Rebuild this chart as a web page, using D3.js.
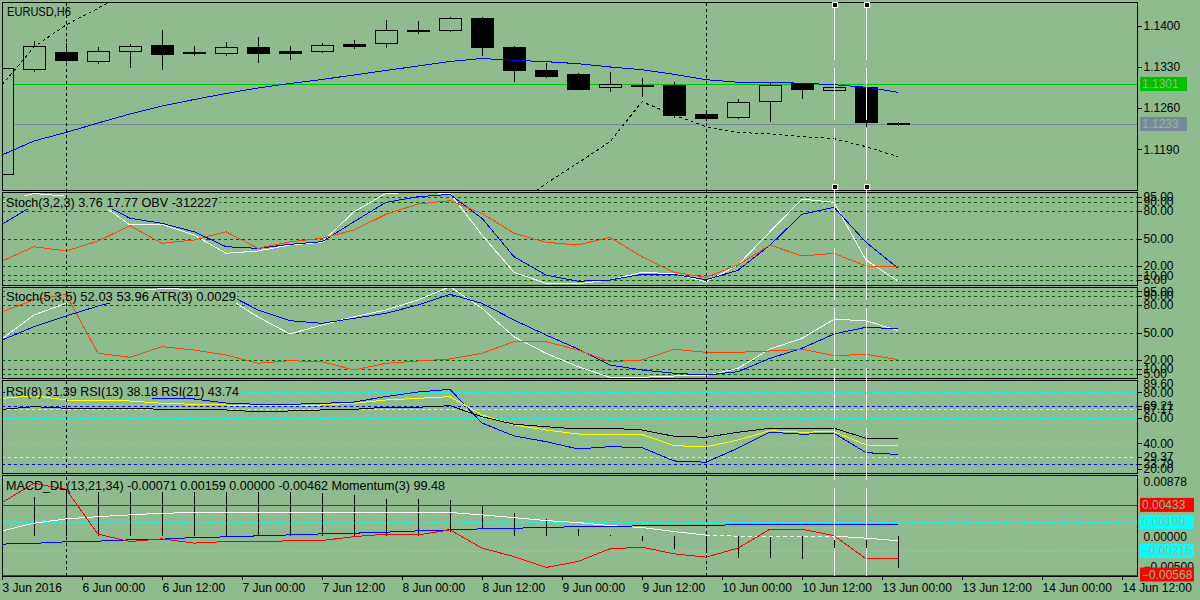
<!DOCTYPE html>
<html><head><meta charset="utf-8">
<script src="https://cdn.jsdelivr.net/npm/d3@7"></script>
<style>
body{margin:0;background:#8fbc8f}
svg{display:block}
</style>
</head><body>
<svg id="c" width="1200" height="600"></svg>
<script>
// ---------------- DATA ----------------
const symbolTitle = "EURUSD,H6";
const timeLabels = ["3 Jun 2016","6 Jun 00:00","6 Jun 12:00","7 Jun 00:00","7 Jun 12:00","8 Jun 00:00","8 Jun 12:00","9 Jun 00:00","9 Jun 12:00","10 Jun 00:00","10 Jun 12:00","13 Jun 00:00","13 Jun 12:00","14 Jun 00:00","14 Jun 12:00"];

const openPrices  = [1.11481,1.13260,1.13554,1.13406,1.13559,1.13672,1.13548,1.13525,1.13638,1.13571,1.13576,1.13695,1.13695,1.13922,1.13915,1.14126,1.13638,1.13248,1.13180,1.12954,1.12988,1.12993,1.12500,1.12444,1.12716,1.13022,1.12903,1.12954,1.12345];
const highPrices  = [1.13277,1.13740,1.13706,1.13638,1.13689,1.13927,1.13655,1.13723,1.13813,1.13655,1.13712,1.13757,1.14097,1.14080,1.14153,1.14140,1.13655,1.13367,1.13197,1.13214,1.13107,1.13044,1.12568,1.12755,1.13032,1.13022,1.12993,1.12976,1.12364];
const lowPrices   = [1.11481,1.13219,1.13384,1.13345,1.13287,1.13253,1.13491,1.13491,1.13372,1.13423,1.13542,1.13599,1.13627,1.13864,1.13893,1.13491,1.13049,1.13117,1.12913,1.12879,1.12794,1.12437,1.12381,1.12420,1.12369,1.12755,1.12823,1.12284,1.12301];
const closePrices = [1.13277,1.13655,1.13423,1.13571,1.13650,1.13525,1.13551,1.13633,1.13542,1.13542,1.13672,1.13661,1.13922,1.13924,1.14126,1.13627,1.13253,1.13151,1.12930,1.13005,1.12964,1.12483,1.12437,1.12699,1.12988,1.12913,1.12954,1.12352,1.12325];

const maPrices = [1.11804,1.12041,1.12186,1.12347,1.12500,1.12636,1.12746,1.12848,1.12942,1.13018,1.13086,1.13163,1.13239,1.13316,1.13392,1.13443,1.13412,1.13389,1.13355,1.13299,1.13253,1.13175,1.13083,1.13039,1.13039,1.13022,1.12998,1.12954,1.12869];
const bandUpper = [1.12993,1.13638,1.14012,1.14296,1.14590,null,null,null,null,null,null,null,null,null,null,null,null,null,null,null,null,null,null,null,null,null,null,null,null];
const bandLower = [null,null,null,null,null,null,null,null,null,null,null,null,null,null,null,1.10400,1.10903,1.11319,1.11668,1.12030,1.12709,1.12483,1.12284,1.12189,1.12160,1.12115,1.12081,1.11945,1.11775];

const priceTicks = [1.1400,1.1330,1.1260,1.1190];
const greenPriceLine = 1.1301;
const bidPriceLine = 1.1233;

const stoch1Main   = [90,98.9,96,89.7,64.7,65.4,53.8,33.9,36.4,42.9,45.9,79.1,99.1,100,99.1,53.8,13.3,1.3,0.9,4.9,13.3,11.7,3,21.2,57.4,92.9,89.3,26.6,3.76];
const stoch1Signal = [65.4,86.4,95.1,90,72,66.5,57.4,41.1,39.3,43.7,46.5,68.3,89.3,95.4,98,72,30.2,10.3,3.5,4.9,11.1,11.1,5.2,15.4,42.9,76.3,83.9,45.9,17.77];
const obvScaled    = [25.5,41.1,36.4,47.3,63.9,44.8,48.4,57.4,39.3,46.5,50.2,59.2,76.3,87.5,91.1,77.4,55.7,45.9,42.9,51.3,30.2,13.3,7.8,21.2,42.9,31,33.9,20.1,20.1];

const stoch2Main   = [42.9,69.1,81.9,88,95,98,97,89,66.9,48.4,58.2,67.2,74.6,85.5,100,76.4,45.4,27.3,12.7,1.1,1.1,2.5,2.8,10.9,32,43.7,64.4,62.9,52.03];
const stoch2Signal = [41.8,56.3,68,78.9,87.7,94.2,96.4,92.6,74.6,62.9,60,65.5,71,80,91.7,81.9,63.6,47.3,32,14.5,9.1,5.5,3.6,7.2,21.8,32.8,48.4,55.7,53.96];
const atrScaled    = [72.7,85.5,91.7,27.3,22.9,34.5,30.9,25.4,16.4,19.2,18.1,9.1,16.4,18.9,21.1,27.3,40,40,30.9,18.1,20,31.7,28.4,28.4,29.8,31.7,24.7,26.2,20.3];
const stochLevels  = [95,90,80,50,20,10,5];

const rsi8  = [79.5,81,78.7,78.7,77.1,74.8,74.8,71.6,70.6,70.6,71.3,72.4,76.7,80.2,82.3,56,45.9,41.4,35.7,37.5,36.7,26.3,25.3,36.3,48.8,47.2,48,32.8,31.39];
const rsi13 = [75.3,77.3,74,73.2,73.2,71.4,70.6,70.1,69.3,69.3,70.1,71.4,74,75.3,76.6,62.3,54.5,50.5,47.4,46.6,47,38.3,37.3,42.7,50,48.8,49.2,38.8,38.18];
const rsi21 = [66.7,68.75,67.5,67,67.5,66.7,66.7,66.2,64.8,65.4,66.2,66.7,68.3,68.3,69.5,60.9,55,53.1,51.3,51.9,50.5,45.6,44.8,48.75,51.9,51.3,51.9,44.1,43.74];
const rsiCyanLevels = [80,60,40,20];
const rsiBlueLevels = [69.21,23.79];
const rsiYellowLevels = [67.17,29.37];
const rsiMax = 89.60;

const macdMain   = [0.00067,0.00176,0.00236,0.00268,0.00292,0.00316,0.00324,0.00326,0.00327,0.00326,0.00326,0.00326,0.00326,0.00327,0.00327,0.00292,0.00254,0.00212,0.00184,0.00142,0.00114,0.00058,0.00007,-0.00007,-0.00007,-0.00007,-0.00007,-0.00035,-0.00071];
const macdSignal = [-0.00119,-0.00108,-0.00087,-0.00077,-0.00059,-0.00049,-0.00027,-0.00017,-0.00003,0.00011,0.00025,0.00035,0.00049,0.00067,0.00081,0.00096,0.00105,0.00114,0.00128,0.00131,0.00138,0.00142,0.00147,0.00152,0.00157,0.00159,0.00159,0.00159,0.00159];
const histUpper  = [null,0.00549,0.00723,0.00611,0.00611,0.00611,0.00611,0.00611,0.00611,0.00611,0.00597,0.00573,0.00513,0.00517,0.00503,0.00419,0.00324,0.00232,0.00096,0.00007,0,0,0,0,0,0,0,0,0];
const histLower  = [null,0,0,0,0,0,0,0,0,0,0,0,0,0,0.00058,0.00096,0,0,0,0,-0.00069,-0.00185,-0.00242,-0.00316,-0.00316,-0.00330,-0.00350,-0.00400,-0.00462];
const momentumScaled = [0.00465,0.00737,0.00653,0.00021,-0.00083,-0.00045,-0.00105,-0.00083,-0.00083,-0.00073,-0.00069,-0.00013,0.00021,0.00011,0.00081,-0.00176,-0.00294,-0.00448,-0.00364,-0.00185,-0.00162,-0.00256,-0.00302,-0.00176,0.00091,0.00091,0.00001,-0.00326,-0.00316];
const macdMaxLabel = 0.00878;
const macdRedLevels = [0.00433,-0.00568];
const macdCyanLevels = [0.00190,-0.00215];
const macdPlainTicks = [0.00000,-0.00500];

const separatorBars = [2,22];
const objectLineBars = [26,27];

const labelStoch1 = "Stoch(3,2,3) 3.76 17.77 OBV -312227";
const labelStoch2 = "Stoch(5,3,5) 52.03 53.96 ATR(3) 0.0029";
const labelRsi = "RSI(8) 31.39 RSI(13) 38.18 RSI(21) 43.74";
const labelMacd = "MACD_DL(13,21,34) -0.00071 0.00159 0.00000 -0.00462 Momentum(3) 99.48";

// ---------------- DRAWING ----------------
const BG = '#8fbc8f';
const FONT = '"Liberation Sans", Arial, sans-serif';
const svg = d3.select('#c');
svg.append('rect').attr('width',1200).attr('height',600).attr('fill',BG);
const defs = svg.append('defs');

const AX = 1137.5; // right axis line
const x = d3.scaleLinear().domain([0, 28]).range([2, 898]);

const P = {
  main: {top:2.5, bottom:190.5},
  s1:   {top:192.5, bottom:285.5},
  s2:   {top:287.5, bottom:378.5},
  rsi:  {top:380.5, bottom:473.5},
  macd: {top:475.5, bottom:576.5}
};
const yMain = d3.scaleLinear().domain([1.1190, 1.1400]).range([149.3, 25.7]);
const yS1 = d3.scaleLinear().domain([0,100]).range([284.5,192.5]);
const yS2 = d3.scaleLinear().domain([0,100]).range([378.3,286.7]);
const yR  = d3.scaleLinear().domain([20,80]).range([469,392.3]);
const yM  = d3.scaleLinear().domain([-0.00568,0.00878]).range([576,473.3]);

function makePanel(key){
  const p = P[key];
  defs.append('clipPath').attr('id','clip-'+key).append('rect')
    .attr('x',2.5).attr('y',p.top).attr('width',AX-2.5).attr('height',p.bottom-p.top);
  const g = svg.append('g').attr('clip-path','url(#clip-'+key+')');
  const layers = {
    levels: g.append('g'), l1: g.append('g'), box: g.append('g'), l2: g.append('g'), text: g.append('g')
  };
  svg.append('rect').attr('x',2.5).attr('y',p.top).attr('width',AX-2.5).attr('height',p.bottom-p.top)
    .attr('fill','none').attr('stroke','#000').attr('stroke-width',1).attr('shape-rendering','crispEdges');
  return layers;
}
function path(g, values, y, color, dash, defFn){
  const ln = d3.line().defined((d,i)=> d!=null && (!defFn || defFn(i))).x((d,i)=>x(i)).y(d=>y(d));
  g.append('path').attr('d', ln(values)).attr('fill','none').attr('stroke',color)
    .attr('stroke-width',1).attr('stroke-dasharray',dash||null).attr('shape-rendering','crispEdges');
}
function hLevel(g, v, y, color, dash, solid, maxY){
  let yy = Math.round(y(v))+0.5;
  if (maxY != null) yy = Math.min(yy, maxY);
  g.append('line').attr('x1',2).attr('x2',AX).attr('y1',yy).attr('y2',yy)
    .attr('stroke',color).attr('stroke-width',1).attr('stroke-dasharray',solid?null:(dash||'3,3'))
    .attr('shape-rendering','crispEdges');
}
function panelLabel(layers, txt, bx, by, len){
  const t = layers.text.append('text').attr('x',bx).attr('y',by).text(txt)
    .attr('font-family',FONT).attr('font-size',12).attr('fill','#000')
    .attr('textLength',len).attr('lengthAdjust','spacingAndGlyphs');
  const bb = t.node().getBBox();
  layers.box.append('rect').attr('x',bb.x-1).attr('y',bb.y+0.5).attr('width',bb.width+2).attr('height',bb.height-1).attr('fill',BG);
}
function rightAxis(scale, values, fmt){
  const g = svg.append('g').attr('transform',`translate(${AX},0)`)
    .call(d3.axisRight(scale).tickValues(values).tickFormat(fmt).tickSize(4).tickPadding(2));
  g.select('.domain').remove();
  g.attr('font-family',FONT).attr('font-size',12);
  g.selectAll('text').attr('fill','#000');
  g.selectAll('line').attr('stroke','#000').attr('shape-rendering','crispEdges');
  return g;
}
function valueBox(y, txt, fill, w){
  svg.append('rect').attr('x',1140).attr('y',y-7).attr('width',w).attr('height',14).attr('fill',fill);
  svg.append('text').attr('x',1142).attr('y',y+4.3).text(txt).attr('font-family',FONT).attr('font-size',12).attr('fill',BG);
}

// ---- MAIN PANEL ----
const M = makePanel('main');
hLevel(M.levels, greenPriceLine, yMain, '#00c000', null, true);
hLevel(M.levels, bidPriceLine, yMain, '#778899', null, true);
const cg = M.l1;
openPrices.forEach((o,i)=>{
  const c = closePrices[i], cx = Math.round(x(i))+0.5;
  cg.append('line').attr('x1',cx).attr('x2',cx).attr('y1',yMain(highPrices[i])).attr('y2',yMain(lowPrices[i]))
    .attr('stroke','#000').attr('shape-rendering','crispEdges');
  const top = yMain(Math.max(o,c)), bot = yMain(Math.min(o,c));
  const bull = c >= o;
  cg.append('rect').attr('x',cx-11).attr('y',Math.round(top)+0.5).attr('width',22)
    .attr('height',Math.max(1,Math.round(bot-top)))
    .attr('fill', bull ? BG : '#000').attr('stroke','#000').attr('shape-rendering','crispEdges');
});
path(M.l2, maPrices, yMain, '#0000ff');
path(M.l2, bandUpper, yMain, '#000', '3,3');
path(M.l2, bandLower, yMain, '#000', '3,3');
M.text.append('text').attr('x',7).attr('y',16).text(symbolTitle).attr('font-family',FONT).attr('font-size',12)
  .attr('textLength',64).attr('lengthAdjust','spacingAndGlyphs');
rightAxis(yMain, priceTicks, d3.format('.4f'));
valueBox(yMain(greenPriceLine), d3.format('.4f')(greenPriceLine), '#00c000', 47);
valueBox(yMain(bidPriceLine), d3.format('.4f')(bidPriceLine), '#778899', 47);

// ---- STOCH 1 ----
const S1 = makePanel('s1');
stochLevels.forEach(v=>hLevel(S1.levels, v, yS1, '#006400', '3,3'));
path(S1.l1, stoch1Main, yS1, '#ffffff');
path(S1.l1, stoch1Signal, yS1, '#0000ff');
path(S1.l2, obvScaled, yS1, '#ff4500');
panelLabel(S1, labelStoch1, 6, 206.5, 212);
rightAxis(yS1, stochLevels, d3.format('.2f'));

// ---- STOCH 2 ----
const S2 = makePanel('s2');
stochLevels.forEach(v=>hLevel(S2.levels, v, yS2, '#006400', '3,3'));
path(S2.l1, stoch2Main, yS2, '#ffffff');
path(S2.l1, stoch2Signal, yS2, '#0000ff');
path(S2.l2, atrScaled, yS2, '#ff4500');
panelLabel(S2, labelStoch2, 6, 300.5, 230);
rightAxis(yS2, stochLevels, d3.format('.2f'));

// ---- RSI ----
const R = makePanel('rsi');
rsiCyanLevels.forEach(v=>hLevel(R.levels, v, yR, '#00ffff', '3,3'));
rsiBlueLevels.forEach(v=>hLevel(R.levels, v, yR, '#0000ff', '3,3'));
rsiYellowLevels.forEach(v=>hLevel(R.levels, v, yR, '#ffff00', '3,3'));
path(R.l1, rsi8, yR, '#0000ff');
path(R.l2, rsi13, yR, '#ffff00');
path(R.l2, rsi21, yR, '#000000');
panelLabel(R, labelRsi, 6, 395.5, 233);
rightAxis(yR, [80,69.21,67.17,60,40,29.37,23.79,20], d3.format('.2f'));
svg.append('text').attr('x',AX+6).attr('y',388.3).text(d3.format('.2f')(rsiMax))
  .attr('font-family',FONT).attr('font-size',12);

// ---- MACD ----
const MC = makePanel('macd');
macdRedLevels.forEach(v=>hLevel(MC.levels, v, yM, '#e00000', null, true, 575.5));
macdCyanLevels.forEach(v=>hLevel(MC.levels, v, yM, '#00ffff', '4,3'));
histUpper.forEach((u,i)=>{
  if(u==null) return;
  const cx = Math.round(x(i))+0.5;
  MC.l1.append('line').attr('x1',cx).attr('x2',cx).attr('y1',yM(u)).attr('y2',yM(histLower[i]))
    .attr('stroke','#000').attr('stroke-width',1.5).attr('shape-rendering','crispEdges');
});
path(MC.l1, macdMain, yM, '#ffffff', null, i => i<=22 || i>=26);
path(MC.l1, macdMain, yM, '#ffffff', '4,3', i => i>=22 && i<=26);
path(MC.l1, macdSignal, yM, '#0000ff');
path(MC.l2, momentumScaled, yM, '#ff0000');
panelLabel(MC, labelMacd, 6, 489.5, 439);
const f5 = d3.format('.5f');
svg.append('text').attr('x',AX+6).attr('y',486.3).text(f5(macdMaxLabel)).attr('font-family',FONT).attr('font-size',12);
macdPlainTicks.forEach(v=>{
  svg.append('text').attr('x',AX+6).attr('y',(v===0?yM(v)+5:yM(v)-0.5)).text(f5(v)).attr('font-family',FONT).attr('font-size',12);
});
valueBox(yM(macdRedLevels[0]), f5(macdRedLevels[0]), '#ff0000', 54);
macdCyanLevels.forEach(v=>valueBox(yM(v), f5(v), '#00ffff', 54));
valueBox(574.5, f5(macdRedLevels[1]), '#ff0000', 54);

// ---- separators & objects (on top) ----
separatorBars.forEach(b=>{
  const sx = Math.round(x(b))+0.5;
  svg.append('line').attr('x1',sx).attr('x2',sx).attr('y1',3).attr('y2',576)
    .attr('stroke','#000').attr('stroke-dasharray','3,3').attr('shape-rendering','crispEdges');
});
objectLineBars.forEach(b=>{
  const sx = Math.round(x(b))+0.5;
  svg.append('line').attr('x1',sx).attr('x2',sx).attr('y1',8).attr('y2',576)
    .attr('stroke','#fff').attr('stroke-width',1.5).attr('stroke-dasharray','52,8').attr('shape-rendering','crispEdges');
  [5,187].forEach(yy=>{
    svg.append('rect').attr('x',sx-2.5).attr('y',yy-2.5).attr('width',5).attr('height',5)
      .attr('fill','#000').attr('stroke','#fff').attr('stroke-width',1).attr('shape-rendering','crispEdges');
  });
});

// ---- time axis ----
const tg = svg.append('g');
timeLabels.forEach((lab,k)=>{
  const tx = Math.round(x(k*2.5))+0.5;
  tg.append('line').attr('x1',tx).attr('x2',tx).attr('y1',576.5).attr('y2',580)
    .attr('stroke','#000').attr('shape-rendering','crispEdges');
  tg.append('text').attr('x',tx).attr('y',592).text(lab).attr('font-family',FONT).attr('font-size',12).attr('fill','#000');
});
</script>
</body></html>
